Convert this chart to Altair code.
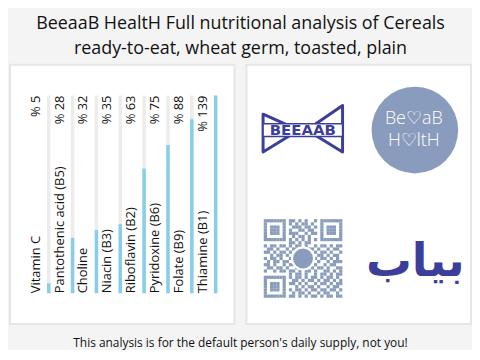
import altair as alt
import pandas as pd

# ---- data ----
nutrients = ["Vitamin C", "Pantothenic acid (B5)", "Choline", "Niacin (B3)",
             "Riboflavin (B2)", "Pyridoxine (B6)", "Folate (B9)", "Thiamine (B1)"]
percent = [5, 28, 32, 35, 63, 75, 88, 139]

title_lines = ["BeeaaB HealtH Full nutritional analysis of Cereals",
               "ready-to-eat, wheat germ, toasted, plain"]
footer_text = "This analysis is for the default person's daily supply, not you!"

circle_lines = ["Be\u2661aB", "H\u2661ltH"]
bow_word = "BEEAAB"
arabic_word = "\u0628\u06cc\u0627\u0628"

qr_rows = [
    "1111111" + "01101010010" + "1111111",
    "1000001" + "01010110100" + "1000001",
    "1011101" + "00111011010" + "1011101",
    "1011101" + "01001101100" + "1011101",
    "1011101" + "01110010110" + "1011101",
    "1000001" + "00101101000" + "1000001",
    "1111111" + "01010101010" + "1111111",
    "00000000" + "110101100" + "00000000",
    "1011011010110100101101011",
    "0110100101101011010010110",
    "1101011010010110101101001",
    "0010110101101001011010110",
    "1011010010110100101101010",
    "0101101101001011010010111",
    "1101001011010110100101100",
    "0110110100101001011010011",
    "1001011011010110100110101",
    "00000000" + "10110100101101011",
    "1111111" + "0" + "10110101101011010",
    "1000001" + "0" + "01101011010110101",
    "1011101" + "0" + "11010100101101011",
    "1011101" + "0" + "00101011010010110",
    "1011101" + "0" + "10110101101101101",
    "1000001" + "0" + "01011010010110010",
    "1111111" + "0" + "11010101101011011",
]

FONT = "Open Sans"
BLUE = "#87ceeb"
NAVY = "#3b3e9a"
SLATE = "#8a9cbd"
W, H = 226, 261

# ---- left panel: bars ----
df = pd.DataFrame({"name": nutrients, "pct": percent, "idx": list(range(len(nutrients)))})
df["shown"] = df["pct"].clip(upper=100)
df["full"] = 100
df["zero"] = 0
df["label"] = "% " + df["pct"].astype(str)

xs = alt.Scale(domain=[-1.625, 7.7917], nice=False, zero=False)
ys = alt.Scale(domain=[-15.58, 115.58], nice=False, zero=False)
X = alt.X("idx:Q", scale=xs, axis=None)

base = alt.Chart(df)
bg = base.mark_rule(color="#ececec", strokeWidth=3.5).encode(
    x=X, y=alt.Y("zero:Q", scale=ys, axis=None), y2="full:Q")
fg = base.mark_rule(color=BLUE, strokeWidth=3.5).encode(
    x=X, y=alt.Y("zero:Q", scale=ys, axis=None), y2="shown:Q")
names = base.mark_text(angle=270, align="left", baseline="alphabetic", dy=-9,
                       fontSize=13, font=FONT, color="#111111").encode(
    x=X, y=alt.Y("zero:Q", scale=ys, axis=None), text="name:N")
pcts = base.mark_text(angle=270, align="right", baseline="alphabetic", dy=-9,
                      fontSize=13, font=FONT, color="#111111").encode(
    x=X, y=alt.Y("full:Q", scale=ys, axis=None), text="label:N")
left = alt.layer(bg, fg, names, pcts).properties(width=W, height=H)

# ---- right panel: logos ----
rx = alt.Scale(domain=[0, 1], nice=False, zero=False)
ry = alt.Scale(domain=[0, 1], nice=False, zero=False, reverse=True)

def pos(frame):
    return dict(x=alt.X("x:Q", scale=rx, axis=None), y=alt.Y("y:Q", scale=ry, axis=None))

circ_df = pd.DataFrame({"x": [0.75], "y": [0.252]})
circ = alt.Chart(circ_df).mark_point(shape="circle", filled=True, size=7600,
                                     color=SLATE, opacity=1).encode(**pos(circ_df))
ctext_df = pd.DataFrame({"x": [0.745, 0.745], "y": [0.209, 0.296], "t": circle_lines})
ctext = alt.Chart(ctext_df).mark_text(fontSize=18, font=FONT, fontWeight=300,
                                      color="white", baseline="middle").encode(
    **pos(ctext_df), text="t:N")

bow_df = pd.DataFrame({"x": [0.251], "y": [0.252], "t": [bow_word]})
bow = alt.Chart(bow_df).mark_point(
    shape="M-1,-0.4 L-0.1,0 L-1,0.55 Z M1,-0.62 L0.1,0 L1,0.55 Z",
    filled=False, size=6400, stroke=NAVY, strokeWidth=3, opacity=1,
    strokeJoin="round").encode(**pos(bow_df))
band = alt.Chart(bow_df).mark_point(
    shape="M-1,-0.16 L1,-0.16 L1,0.16 L-1,0.16 Z", filled=True, size=6400,
    fill="white", stroke=NAVY, strokeWidth=1.5, opacity=1).encode(**pos(bow_df))
bowtext = alt.Chart(bow_df).mark_text(fontSize=15, font="DejaVu Sans", fontWeight="bold",
                                      color=NAVY, baseline="middle").encode(
    **pos(bow_df), text="t:N")

ar_df = pd.DataFrame({"x": [0.752], "y": [0.76], "t": [arabic_word]})
arab = alt.Chart(ar_df).mark_text(fontSize=46, font="DejaVu Sans", fontWeight="bold",
                                  color=NAVY, baseline="middle").encode(
    **pos(ar_df), text="t:N")

mod = 3.16
qr_cells = []
for r, row in enumerate(qr_rows):
    row = row.ljust(25, "0")[:25]
    for c, ch in enumerate(row):
        if ch == "1":
            qr_cells.append({"x": 0.252 + (c - 12) * mod / W,
                             "y": 0.747 + (r - 12) * mod / H})
qr_df = pd.DataFrame(qr_cells)
qr = alt.Chart(qr_df).mark_square(size=10.5, color=SLATE, opacity=1).encode(**pos(qr_df))
qc_df = pd.DataFrame({"x": [0.252], "y": [0.747]})
qr_hole = alt.Chart(qc_df).mark_point(shape="circle", filled=True, size=600,
                                      color="white", opacity=1).encode(**pos(qc_df))
qr_dot = alt.Chart(qc_df).mark_point(shape="circle", filled=True, size=400,
                                     color=SLATE, opacity=1).encode(**pos(qc_df))

right = alt.layer(circ, ctext, bow, band, bowtext, arab, qr, qr_hole, qr_dot).properties(
    width=W, height=H)

panels = alt.hconcat(left, right, spacing=10).properties(
    title=alt.TitleParams(footer_text, orient="bottom", anchor="middle", fontSize=12,
                          font=FONT, fontWeight="normal", color="#111111", offset=13))

chart = alt.vconcat(panels).properties(
    title=alt.TitleParams(title_lines, anchor="middle", fontSize=18, font=FONT,
                          fontWeight="normal", color="#111111", lineHeight=25, offset=6),
    padding={"left": 1, "top": 6, "right": 0, "bottom": 0},
    background="#f4f4f4",
).configure_view(fill="white", stroke="#e6e6e6", strokeWidth=2).configure_concat(spacing=0)

chart.save("out.html", embed_options={"renderer": "svg", "actions": False})
